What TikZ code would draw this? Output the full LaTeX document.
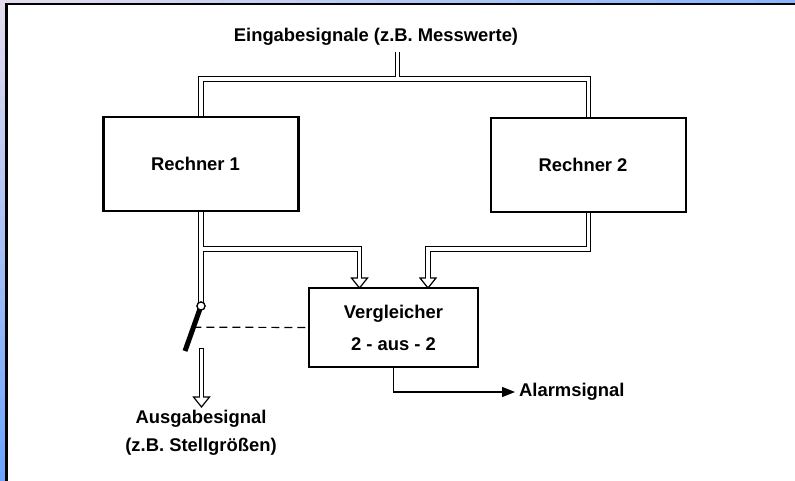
\documentclass[tikz,border=0pt]{standalone}
\usepackage{fontspec}
\setmainfont{Liberation Sans}
\usetikzlibrary{arrows.meta,calc}
\pgfdeclarelayer{back}
\pgfdeclarelayer{pipes}
\pgfsetlayers{back,pipes,main}
\definecolor{edgelav}{HTML}{E4DCEE}
\definecolor{edgeblue}{HTML}{86B6FF}
\definecolor{edgedeep}{HTML}{6CA6FF}
\begin{document}
\begin{tikzpicture}[x=1pt,y=-1pt,
  txt/.style={font=\fontsize{18.4}{22}\selectfont\bfseries},
  box/.style={draw, line width=2.4pt, fill=white, inner sep=0pt, txt},
  pipeout/.style={line width=5.8pt, black},
  pipein/.style={line width=3.4pt, white},
  hollowhead/.style={draw=black, fill=white, line width=1.2pt, line join=miter},
  signal/.style={line width=1.3pt, -{Triangle[length=13pt,width=10pt]}},
  linkdash/.style={line width=1.2pt, dash pattern=on 8pt off 5pt},
  ]
\useasboundingbox (0,0) rectangle (795,481);

% frame and coloured margin, graded in steps
\begin{pgfonlayer}{back}
  \fill[white] (0,0) rectangle (795,481);
  \foreach \i in {0,...,39}{
    \pgfmathsetmacro{\p}{100*\i/39}
    \fill[edgeblue!\p!edgelav] ({\i*19.875},0) rectangle ({(\i+1)*19.875+0.5},5);
    \fill[edgedeep!\p!edgelav] (0,{\i*12.025}) rectangle (7,{(\i+1)*12.025+0.5});
  }
  \fill[black] (5.25,2.75) rectangle (795,5.25);
  \fill[black] (5.25,2.75) rectangle (7.75,481);
\end{pgfonlayer}

% blocks
\node[box, minimum width=195pt, minimum height=94pt] (r1) at (201,164) {Rechner 1\hspace*{11pt}};
\node[box, minimum width=195pt, minimum height=94pt] (r2) at (588.5,165) {Rechner 2\hspace*{11pt}};
\node[box, minimum width=169pt, minimum height=79pt, align=center,
      font=\fontsize{18.4}{32}\selectfont\bfseries] (vg) at (393.5,327.5) {Vergleicher\\2 - aus - 2};

% labels
\node[txt] (title) at (376,37) {Eingabesignale (z.B. Messwerte)};
\node[txt, align=center, font=\fontsize{18.4}{28}\selectfont\bfseries] (outlbl) at (201,433)
  {Ausgabesignal\\(z.B. Stellgrößen)};
\node[txt, anchor=west, inner sep=0pt] (alarm) at (519,392) {Alarmsignal};

% switch pivot
\node[circle, draw, line width=1.2pt, fill=white, minimum size=8pt, inner sep=0pt] (piv) at (201,306) {};

% routing points
\coordinate (inTop) at (397.5,52);
\coordinate (jIn) at (397.5,79);
\coordinate (j1) at (201,249);
\coordinate (j2) at (428,249);
\coordinate (h1) at (359.5,278);
\coordinate (h2) at (428,278);
\coordinate (outTop) at (201.5,348);
\coordinate (h3) at (201.5,397);
\coordinate (bladeEnd) at (185,351);
\coordinate (bladeMid) at ($(piv.center)!0.47!(bladeEnd)$);

\begin{pgfonlayer}{pipes}
  % outer walls of the signal pipes
  \draw[pipeout] (inTop) -- (jIn);
  \draw[pipeout] (r1.north) |- (jIn) -| (r2.north);
  \draw[pipeout] (r1.south) -- (piv.center);
  \draw[pipeout] (j1) -| (h1);
  \draw[pipeout] (r2.south) |- (j2) -- (h2);
  \draw[pipeout] (outTop) -- (h3);
  % hollow arrow heads
  \foreach \h in {h1,h2,h3}
    \draw[hollowhead] ($(\h)+(-8,0)$) -- ($(\h)+(8,0)$) -- ($(\h)+(0,10)$) -- cycle;
  % inner channel of the pipes
  \draw[pipein] (inTop) -- (jIn);
  \draw[pipein] (r1.north) |- (jIn) -| (r2.north);
  \draw[pipein] (r1.south) -- (piv.center);
  \draw[pipein] (j1) -| ($(h1)+(0,2)$);
  \draw[pipein] (r2.south) |- (j2) -- ($(h2)+(0,2)$);
  \draw[pipein] ($(outTop)+(0,1.2)$) -- ($(h3)+(0,2)$);
  % switch blade
  \draw[line width=5pt] (piv.center) -- (bladeEnd);
\end{pgfonlayer}

% redraw pivot over the blade
\node[circle, draw, line width=1.2pt, fill=white, minimum size=8pt, inner sep=0pt] (piv2) at (piv) {};

% actuation link from the comparator to the switch
\draw[linkdash] (bladeMid) -- (vg.west);

% alarm output
\draw[signal, shorten >=4pt] (vg.south) |- (alarm.west);
\end{tikzpicture}
\end{document}
